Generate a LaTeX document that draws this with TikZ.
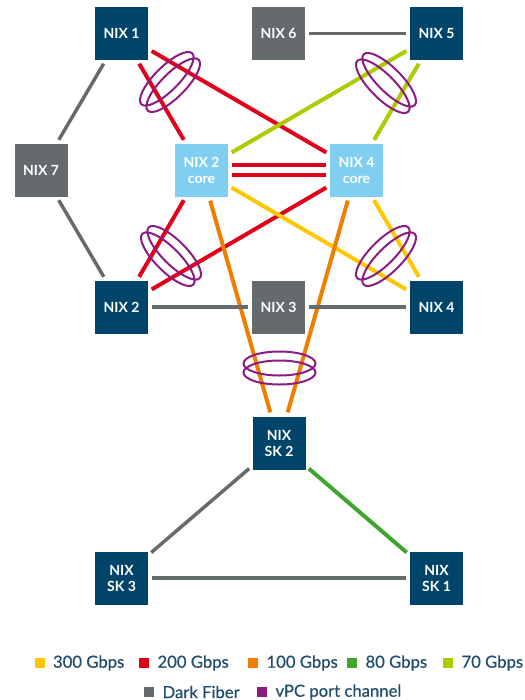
\documentclass[tikz,border=0pt]{standalone}
\usepackage{fontspec}
\setmainfont{Lato}
\newfontface\legfont{Lato}[FakeBold=0.6]
\usetikzlibrary{positioning}
\definecolor{Navy}{HTML}{004569}
\definecolor{Slate}{HTML}{656B6D}
\definecolor{Sky}{HTML}{80CEF2}
\definecolor{Gold}{HTML}{FFC700}
\definecolor{Crimson}{HTML}{E3001B}
\definecolor{Amber}{HTML}{F07D00}
\definecolor{Leaf}{HTML}{3EA62E}
\definecolor{Lime}{HTML}{AACC00}
\definecolor{Plum}{HTML}{8C1C80}
\definecolor{Ink}{HTML}{1F4D6D}
\tikzset{site/.style={fill=Navy,text=white,minimum size=39.75pt,inner sep=0pt,align=center,font=\bfseries\fontsize{10.5}{12}\selectfont},
fiber/.style={site,fill=Slate},core/.style={site,fill=Sky},
link/.style={line width=3pt,shorten >=3pt,shorten <=3pt},dark/.style={link,draw=Slate,line width=2.6pt},
vpc/.style={draw=Plum,line width=1.5pt},
sq/.style={minimum size=7.5pt,inner sep=0pt},legtxt/.style={text=Ink,inner sep=0pt,font=\legfont\fontsize{12.5}{14}\selectfont}}

\begin{document}
\begin{tikzpicture}[x=0.75pt,y=-0.75pt]
\useasboundingbox (0,0) rectangle (525,700);
% sites
\node[site] (nix1) at (121.5,33.5) {NIX 1};
\node[fiber] (nix6) at (278.5,33.5) {NIX 6};
\node[site] (nix5) at (436.5,33.5) {NIX 5};
\node[fiber] (nix7) at (41,170) {NIX 7};
\node[core] (core2) at (201.5,170) {NIX 2\\core};
\node[core] (core4) at (356.5,170) {NIX 4\\core};
\node[site] (nix2) at (121.5,307) {NIX 2};
\node[fiber] (nix3) at (278.5,307) {NIX 3};
\node[site] (nix4) at (436.5,307) {NIX 4};
\node[site] (sk2) at (279,443) {NIX\\SK 2};
\node[site] (sk3) at (121.5,578) {NIX\\SK 3};
\node[site] (sk1) at (436.5,578) {NIX\\SK 1};
% links
\draw[link,Crimson] (nix1) -- (core2);\draw[link,Crimson] (nix1) -- (core4);
\draw[link,Crimson] (nix2) -- (core2);\draw[link,Crimson] (nix2) -- (core4);
\draw[link,Crimson] ([yshift=3.4pt]core2.east) -- ([yshift=3.4pt]core4.west);
\draw[link,Crimson] ([yshift=-3.4pt]core2.east) -- ([yshift=-3.4pt]core4.west);
\draw[link,Lime] (nix5) -- (core2);\draw[link,Lime] (nix5) -- (core4);
\draw[link,Gold] (core2) -- (nix4);\draw[link,Gold] (core4) -- (nix4);
\draw[link,Amber] (core2) -- (sk2);\draw[link,Amber] (core4) -- (sk2);
\draw[link,Leaf] (sk2) -- (sk1);
\draw[dark] (nix1) -- (nix7);\draw[dark] (nix7) -- (nix2);\draw[dark] (nix6) -- (nix5);
\draw[dark] (nix2) -- (nix3);\draw[dark] (nix3) -- (nix4);
\draw[dark] (sk2) -- (sk3);\draw[dark] (sk3) -- (sk1);
% vPC rings
\coordinate (v1) at (170,82);\coordinate (v5) at (386,83);
\coordinate (v2) at (171,256);\coordinate (v4) at (386,256);\coordinate (vsk) at (279.5,368);
\foreach \v/\a in {v1/45,v5/-45,v2/-45,v4/45,vsk/0}
  \draw[vpc,shift={(\v)},rotate=\a] (0,4.5) ellipse [x radius=36,y radius=12] (0,-4.5) ellipse [x radius=36,y radius=12];
% legend
\node[sq,fill=Gold] (s300) at (39.5,663) {};\node[legtxt,right=6pt of s300] (t300) {300 Gbps};
\node[sq,fill=Crimson] (s200) at (144,663) {};\node[legtxt,right=6pt of s200] (t200) {200 Gbps};
\node[sq,fill=Amber] (s100) at (253,663) {};\node[legtxt,right=6pt of s100] (t100) {100 Gbps};
\node[sq,fill=Leaf] (s80) at (352,663) {};\node[legtxt,right=6pt of s80] (t80) {80 Gbps};
\node[sq,fill=Lime] (s70) at (448,663) {};\node[legtxt,right=6pt of s70] (t70) {70 Gbps};
\node[sq,fill=Slate] (sdf) at (149,692) {};\node[legtxt,right=6pt of sdf] (tdf) {Dark Fiber};
\node[sq,fill=Plum] (svpc) at (262,692) {};\node[legtxt,right=6pt of svpc] (tvpc) {vPC port channel};
\end{tikzpicture}
\end{document}
